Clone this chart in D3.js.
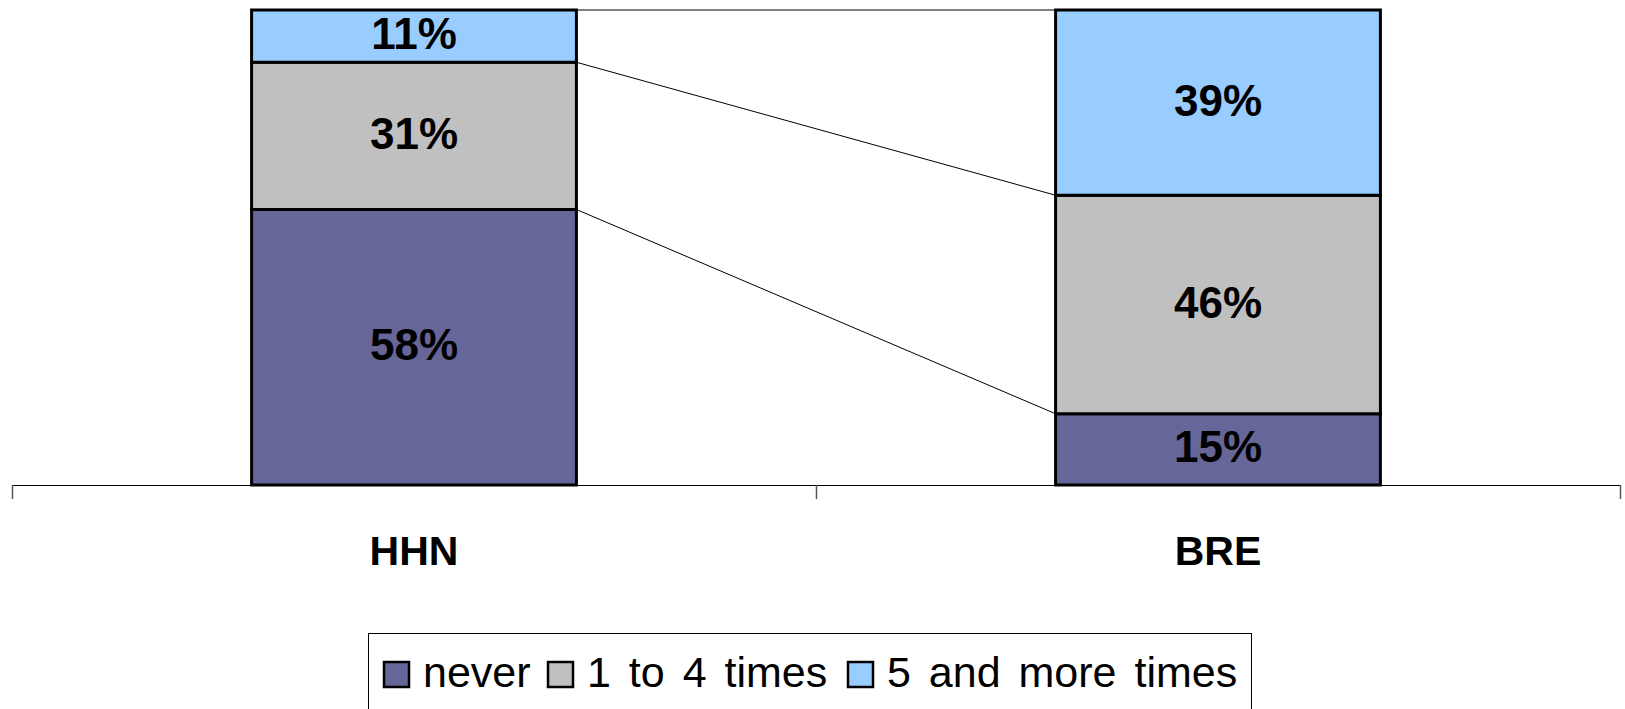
<!DOCTYPE html>
<html>
<head>
<meta charset="utf-8">
<script src="https://cdn.jsdelivr.net/npm/d3@7"></script>
<style>
  html, body { margin: 0; padding: 0; background: #fff; }
  svg { display: block; }
</style>
</head>
<body>
<svg id="chart" width="1625" height="709"></svg>
<script>
const categories = ["HHN", "BRE"];
const seriesNames = ["never", "1 to 4 times", "5 and more times"];
const neverValues = [58, 15];
const oneToFourValues = [31, 46];
const fiveMoreValues = [11, 39];
const seriesColors = ["#666699", "#C0C0C0", "#99CCFF"];

const svg = d3.select("#chart");
const font = "'Liberation Sans', Arial, sans-serif";

const x = d3.scaleBand().domain(categories).range([12, 1620]).paddingInner(0.596).paddingOuter(0.298);
const y = d3.scaleLinear().domain([0, 100]).range([485, 10]);

const rows = categories.map((c, i) => ({
  cat: c,
  "never": neverValues[i],
  "1 to 4 times": oneToFourValues[i],
  "5 and more times": fiveMoreValues[i]
}));
const stacked = d3.stack().keys(seriesNames)(rows);

// connector lines between the bars (series lines)
const boundaries = stacked.map(layer => layer.map(d => d[1]));
svg.append("g").selectAll("line").data(boundaries).join("line")
  .attr("x1", x(categories[0]) + x.bandwidth())
  .attr("x2", x(categories[1]))
  .attr("y1", d => y(d[0]))
  .attr("y2", d => y(d[1]))
  .attr("stroke", "#000").attr("stroke-width", 1);

// axis
const step = x.step();
const axisY = y(0);
const g = svg.append("g");
g.append("line").attr("x1", 12).attr("x2", 1620).attr("y1", axisY + 0.5).attr("y2", axisY + 0.5)
  .attr("stroke", "#000").attr("stroke-width", 1);
const midTick = x(categories[0]) + x.bandwidth() + x.paddingInner() * step / 2;
g.selectAll(".tick").data([x.range()[0], midTick, x.range()[1]]).join("line")
  .attr("x1", d => Math.round(d) + 0.5).attr("x2", d => Math.round(d) + 0.5)
  .attr("y1", axisY).attr("y2", axisY + 14)
  .attr("stroke", "#555").attr("stroke-width", 1.5);

g.selectAll(".cat").data(categories).join("text")
  .attr("x", d => x(d) + x.bandwidth() / 2)
  .attr("y", 565)
  .attr("text-anchor", "middle")
  .attr("font-family", font).attr("font-weight", "bold").attr("font-size", 41)
  .text(d => d);

// bars
const layers = svg.append("g").selectAll("g").data(stacked).join("g")
  .attr("fill", (d, i) => seriesColors[i]);
layers.selectAll("rect").data(d => d).join("rect")
  .attr("x", d => x(d.data.cat))
  .attr("width", x.bandwidth())
  .attr("y", d => y(d[1]))
  .attr("height", d => y(d[0]) - y(d[1]))
  .attr("stroke", "#000").attr("stroke-width", 3);

// labels
svg.append("g").selectAll("g").data(stacked).join("g")
  .selectAll("text").data(d => d).join("text")
  .attr("x", d => x(d.data.cat) + x.bandwidth() / 2)
  .attr("y", d => (y(d[0]) + y(d[1])) / 2 + 13)
  .attr("text-anchor", "middle")
  .attr("font-family", font).attr("font-weight", "bold").attr("font-size", 44)
  .text(d => (d[1] - d[0]) + "%");

// legend
const leg = svg.append("g");
leg.append("rect").attr("x", 368.5).attr("y", 633.5).attr("width", 883).attr("height", 90)
  .attr("fill", "#fff").attr("stroke", "#000").attr("stroke-width", 1);
const swatchX = [384, 548, 848];
const items = leg.selectAll(".item").data(seriesNames).join("g")
  .attr("transform", (d, i) => `translate(${swatchX[i]},662)`);
items.append("rect").attr("width", 25).attr("height", 25)
  .attr("fill", (d, i) => seriesColors[i]).attr("stroke", "#000").attr("stroke-width", 2.5);
items.append("text").attr("x", 39).attr("y", 25)
  .attr("font-family", font).attr("font-size", 43)
  .attr("word-spacing", 6)
  .text(d => d);
</script>
</body>
</html>
